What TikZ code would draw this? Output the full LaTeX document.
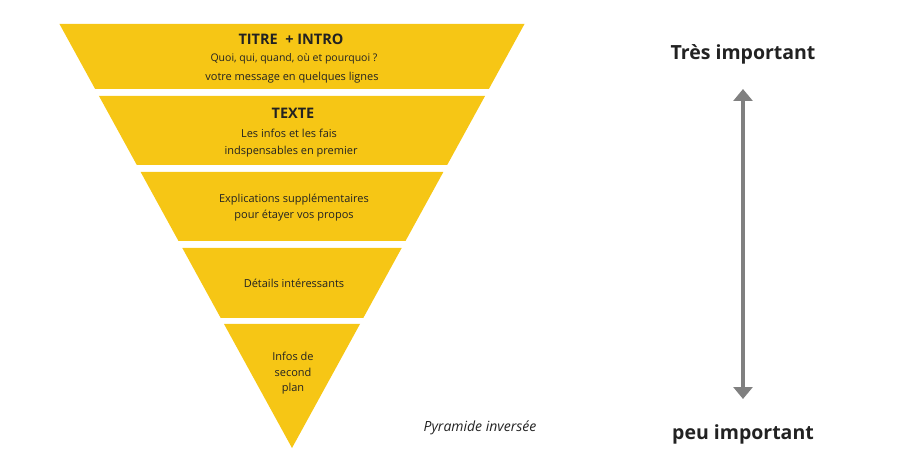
\documentclass[tikz,border=0pt]{standalone}
\usepackage{fontspec}
\setmainfont{Open Sans}
\usetikzlibrary{arrows.meta}
\definecolor{pyr}{HTML}{F6C615}
\definecolor{txt}{HTML}{222222}
\definecolor{arr}{HTML}{808080}
\begin{document}
\begin{tikzpicture}[x=1pt,y=-1pt,
  band/.style={fill=pyr,draw=none},
  lab/.style={text=txt,font=\fontsize{11}{13}\selectfont,align=center,inner sep=0pt},
  head/.style={text=txt,font=\fontsize{14.5}{17}\selectfont\bfseries,inner sep=0pt},
  side/.style={text=txt,font=\fontsize{19.5}{22}\selectfont\bfseries,inner sep=0pt}]
\useasboundingbox (0,0) rectangle (911,473);
% triangle: top y=24 from x=59.5 to 524.5, apex (292,448)
\foreach \a/\b in {24/89,96/165,172/241,248/318}{
  \pgfmathsetmacro\ha{0.54835*(448-\a)}
  \pgfmathsetmacro\hb{0.54835*(448-\b)}
  \fill[band] ({292-\ha},\a) -- ({292+\ha},\a)
     -- ({292+\hb},\b) -- ({292-\hb},\b) -- cycle;
}
\fill[band] (224,324) -- (360,324) -- (292,448) -- cycle;

\node[head] (t1) at (291,39) {TITRE\ \ + INTRO};
\node[lab,font=\fontsize{10.5}{13}\selectfont] (t1a) at (294,59) {Quoi, qui, quand, où et pourquoi ?};
\node[lab] (t1b) at (292,78) {votre message en quelques lignes};
\node[head] (t2) at (293,113) {TEXTE};
\node[lab] (t2a) at (289,133) {Les infos et les fais};
\node[lab] (t2b) at (291,152) {indspensables en premier};
\node[lab] (t3a) at (294,200) {Explications supplémentaires};
\node[lab] (t3b) at (294,216) {pour étayer vos propos};
\node[lab] (t4) at (294,283) {Détails intéressants};
\node[lab] (t5a) at (293,356) {Infos de};
\node[lab] (t5b) at (293,372) {second};
\node[lab] (t5c) at (293,389) {plan};
\node[lab,font=\fontsize{14}{16}\selectfont\itshape] (pyr) at (480,428) {Pyramide inversée};

\node[side] (hi) at (743,54) {Très important};
\node[side] (lo) at (743,434) {peu important};
\coordinate (atop) at (743,89);
\coordinate (abot) at (743,399);
\draw[arr,line width=4,{Triangle[length=12,width=19]}-{Triangle[length=12,width=19]}] (atop) -- (abot);
\end{tikzpicture}
\end{document}
